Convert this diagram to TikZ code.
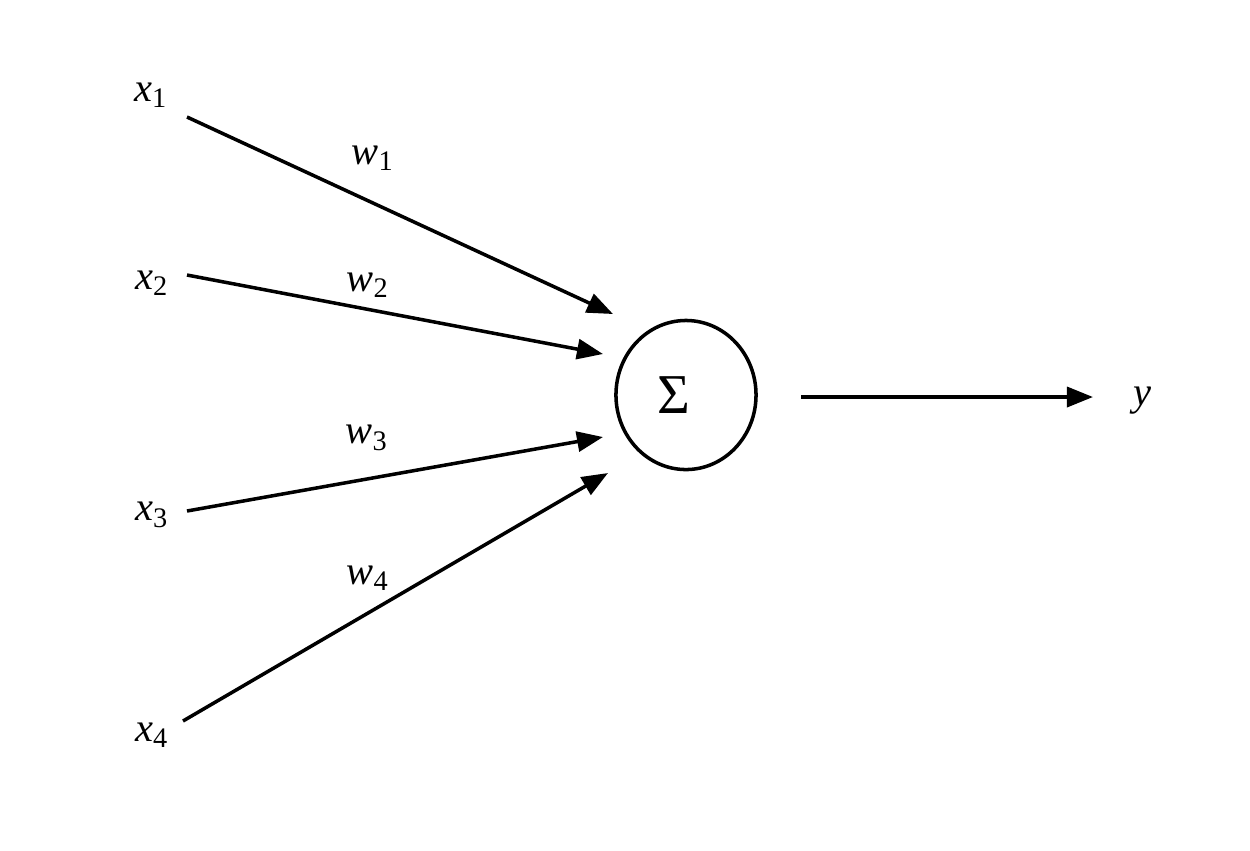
\documentclass[tikz,border=0pt]{standalone}
\usepackage{fontspec}
\setmainfont{Liberation Serif}
\usetikzlibrary{arrows.meta,shapes.geometric}
\begin{document}
\begin{tikzpicture}[x=0.01cm,y=-0.01cm,line width=1pt,
		lbl/.style={font=\fontsize{11.5}{13}\selectfont\itshape, inner sep=0pt},
		wire/.style={-{Triangle[length=0.26cm,width=0.2cm]}}]
		\useasboundingbox (0,0) rectangle (1250,850);
		\node[draw, ellipse, minimum width=1.40cm, minimum height=1.49cm,
			font=\fontsize{16}{18}\selectfont] (sum) at (686,395) {\hspace*{-0.24cm}Σ};
		% inputs
		\node[lbl] (x1) at (151,95) {x\textsubscript{\upshape 1}};
		\node[lbl] (x2) at (152,283) {x\textsubscript{\upshape 2}};
		\node[lbl] (x3) at (152,515) {x\textsubscript{\upshape 3}};
		\node[lbl] (x4) at (152,735) {x\textsubscript{\upshape 4}};
		\node[lbl] (y) at (1142,401) {y};
		% connector ends
		\coordinate (s1) at (187,117);
		\coordinate (s2) at (187,275);
		\coordinate (s3) at (187,511);
		\coordinate (s4) at (183,721);
		\coordinate (e1) at (613,314);
		\coordinate (e2) at (603,354);
		\coordinate (e3) at (603,437);
		\coordinate (e4) at (608,473);
		\coordinate (o1) at (801,397);
		\coordinate (o2) at (1093,397);
		\draw[wire] (s1) -- (e1);
		\draw[wire] (s2) -- (e2);
		\draw[wire] (s3) -- (e3);
		\draw[wire] (s4) -- (e4);
		\draw[wire] (o1) -- (o2);
		% weights
		\node[lbl] (w1) at (373,158) {w\textsubscript{\upshape 1}};
		\node[lbl] (w2) at (368,285) {w\textsubscript{\upshape 2}};
		\node[lbl] (w3) at (367,438) {w\textsubscript{\upshape 3}};
		\node[lbl] (w4) at (368,578) {w\textsubscript{\upshape 4}};
	\end{tikzpicture}
\end{document}
